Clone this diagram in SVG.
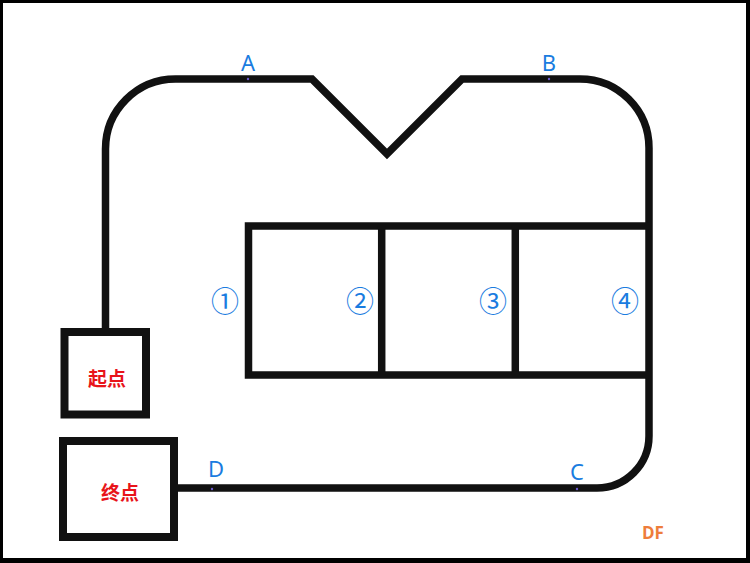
<svg xmlns="http://www.w3.org/2000/svg" width="750" height="563" viewBox="0 0 750 563">
<style>
.trk{fill:none;stroke:#111;stroke-width:7.5;stroke-linejoin:miter;stroke-miterlimit:10}
.box{fill:#fff;stroke:#111;stroke-width:8}
.lbl{font-family:"Noto Sans","Open Sans","Liberation Sans",sans-serif;font-size:22px;fill:#1a7ce0;text-anchor:middle}
.num{font-family:"Noto Sans CJK SC","Noto Sans",sans-serif;font-size:28px;fill:#1a7ce0;text-anchor:middle;dominant-baseline:central}
.cn{font-family:"Noto Sans CJK SC",sans-serif;font-size:19px;font-weight:bold;fill:#e8141a;text-anchor:middle;dominant-baseline:central}
.dot{fill:#6a5acd}
</style>
<g id="frame">
<rect x="0" y="0" width="750" height="563" fill="#000"/>
<rect x="3" y="3" width="743" height="555" fill="#fff"/>
</g>
<g id="connectors">
<path class="trk" d="M105.5,332 V149 A70,70 0 0 1 175.5,79 H312 L387,154 L462,79 H580 A69,69 0 0 1 649,148 V436 A52,52 0 0 1 597,488 H178"/>
</g>
<g id="node-block">
<path class="trk" d="M649,226 H248.5 V375 H649"/>
<path class="trk" d="M381.7,226 V375 M515.3,226 V375"/>
<text class="num" x="225" y="300">①</text>
<text class="num" x="360" y="300">②</text>
<text class="num" x="493" y="300">③</text>
<text class="num" x="625" y="300">④</text>
</g>
<g id="node-start">
<rect class="box" x="64.5" y="332" width="81.5" height="82.5"/>
<text class="cn" x="107" y="377">起点</text>
</g>
<g id="node-end">
<rect class="box" x="63" y="441" width="111" height="96"/>
<text class="cn" x="120" y="491">终点</text>
</g>
<g id="point-labels">
<text class="lbl" x="248" y="71">A</text>
<circle class="dot" cx="248" cy="79" r="1.2"/>
<text class="lbl" x="549" y="71">B</text>
<circle class="dot" cx="549" cy="79" r="1.2"/>
<text class="lbl" x="577" y="480">C</text>
<circle class="dot" cx="577" cy="489" r="1.2"/>
<text class="lbl" x="216" y="477">D</text>
<circle class="dot" cx="212" cy="489" r="1.2"/>
</g>
<text id="logo" x="653" y="539" font-family="'Open Sans','Liberation Sans',sans-serif" font-size="17" font-weight="bold" fill="#ee7d3b" text-anchor="middle">DF</text>
</svg>
